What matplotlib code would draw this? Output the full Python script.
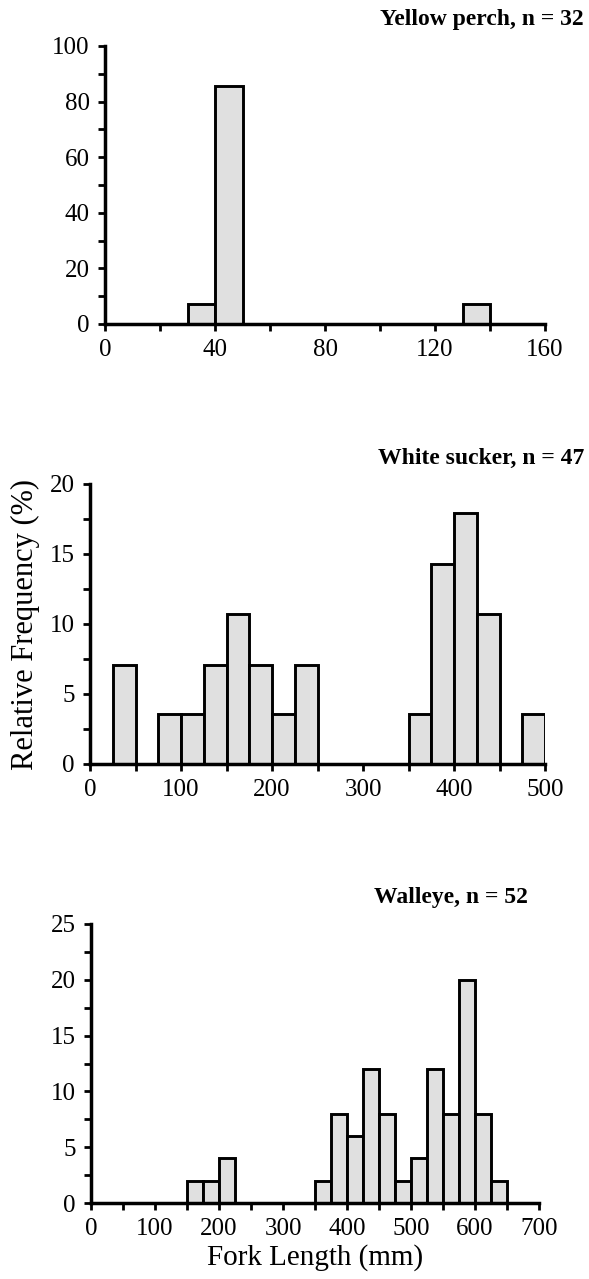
import matplotlib.pyplot as plt
from matplotlib.ticker import MultipleLocator

# relative frequency (%) per length bin, left bin edges in mm
perch_bins = [30, 40, 130]
perch_pct = [7.1, 85.7, 7.1]

sucker_bins = [25, 75, 100, 125, 150, 175, 200, 225, 350, 375, 400, 425, 475]
sucker_pct = [7.1, 3.6, 3.6, 7.1, 10.7, 7.1, 3.6, 7.1, 3.6, 14.3, 17.9, 10.7, 3.6]

walleye_bins = [150, 175, 200, 350, 375, 400, 425, 450, 475, 500, 525, 550, 575, 600, 625]
walleye_pct = [2, 2, 4, 2, 8, 6, 12, 8, 2, 4, 12, 8, 20, 8, 2]

titles = ['Yellow perch, n = 32', 'White sucker, n = 47', 'Walleye, n = 52']

plt.rcParams['font.family'] = ['Liberation Serif', 'DejaVu Serif']

W, H = 589, 1279
fig = plt.figure(figsize=(W / 100, H / 100), dpi=100)


def px_axes(left, right, top, bottom):
    return fig.add_axes([left / W, 1 - bottom / H, (right - left) / W, (bottom - top) / H])


def style(ax, xmax, xmaj, xmin, ymax, ymaj, ymin):
    ax.set_xlim(0, xmax)
    ax.set_ylim(0, ymax)
    ax.xaxis.set_major_locator(MultipleLocator(xmaj))
    ax.xaxis.set_minor_locator(MultipleLocator(xmin))
    ax.yaxis.set_major_locator(MultipleLocator(ymaj))
    ax.yaxis.set_minor_locator(MultipleLocator(ymin))
    for s in ['top', 'right']:
        ax.spines[s].set_visible(False)
    for s in ['left', 'bottom']:
        ax.spines[s].set_linewidth(2.5)
        ax.spines[s].set_zorder(5)
    ax.tick_params(which='both', direction='out', length=5, width=2, labelsize=18, color='black')
    ax.tick_params(axis='x', which='major', pad=6)
    ax.tick_params(axis='y', which='major', pad=6)
    ax.tick_params(which='minor', labelleft=False, labelbottom=False)


ax1 = px_axes(105, 545, 46, 324)
ax1.bar(perch_bins, perch_pct, width=10, align='edge', color='#e0e0e0', edgecolor='black', linewidth=2.1)
style(ax1, 160, 40, 20, 100, 20, 10)

ax2 = px_axes(90, 545, 484, 764)
ax2.bar(sucker_bins, sucker_pct, width=25, align='edge', color='#e0e0e0', edgecolor='black', linewidth=2.1)
style(ax2, 500, 100, 50, 20, 5, 2.5)
ax2.set_ylabel('Relative Frequency (%)', fontsize=22, labelpad=7)

ax3 = px_axes(91, 539, 924, 1203)
ax3.bar(walleye_bins, walleye_pct, width=25, align='edge', color='#e0e0e0', edgecolor='black', linewidth=2.1)
style(ax3, 700, 100, 50, 25, 5, 2.5)
ax3.set_xlabel('Fork Length (mm)', fontsize=21, labelpad=3)

# panel titles, right aligned
fig.text(584 / W, 1 - 20 / H, titles[0], ha='right', va='center', fontsize=17, fontweight='bold')
fig.text(584 / W, 1 - 458 / H, titles[1], ha='right', va='center', fontsize=17, fontweight='bold')
fig.text(528 / W, 1 - 897 / H, titles[2], ha='right', va='center', fontsize=17, fontweight='bold')

fig.savefig('out.png', dpi=100)
